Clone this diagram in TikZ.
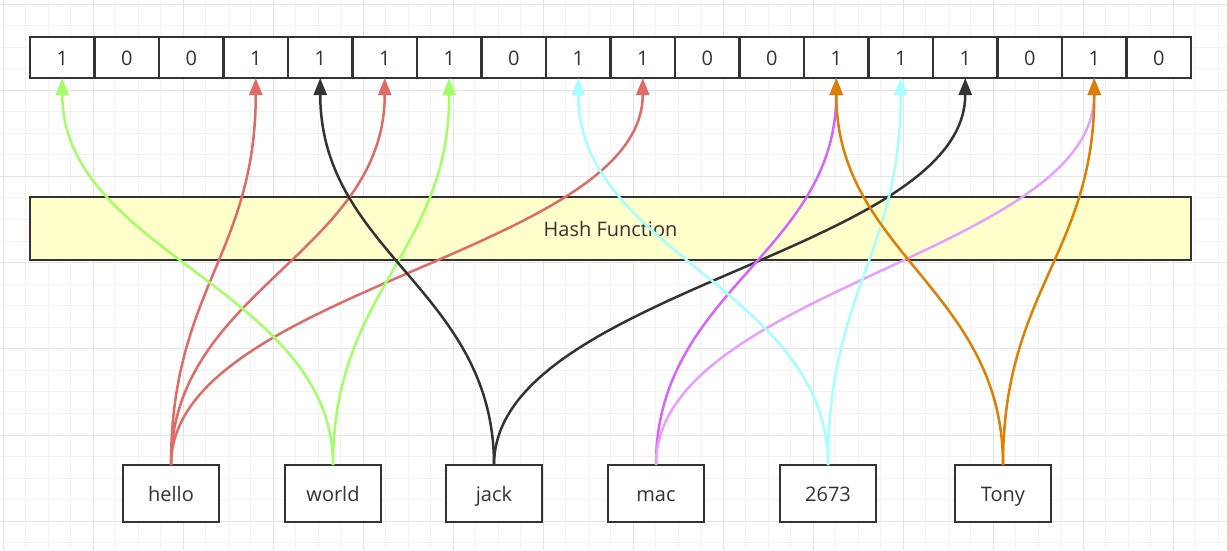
\documentclass[tikz,border=0pt]{standalone}
\usepackage{fontspec}
\setmainfont{Open Sans}
\usepackage{xcolor}
\usetikzlibrary{arrows.meta, positioning}

\definecolor{boxline}{HTML}{333333}
\definecolor{hashfill}{HTML}{FFFFCC}
\definecolor{gridminor}{HTML}{F2F2F2}
\definecolor{gridmajor}{HTML}{E4E4E4}
\definecolor{hred}{HTML}{E06A66}
\definecolor{hgreen}{HTML}{A3FF66}
\definecolor{hblack}{HTML}{333333}
\definecolor{hpurple}{HTML}{D466FF}
\definecolor{hlilac}{HTML}{E6A0FF}
\definecolor{hcyan}{HTML}{A6FFFF}
\definecolor{horange}{HTML}{DF7E00}

\begin{document}
\begin{tikzpicture}[x=1pt, y=-1pt,
  cell/.style={draw=boxline, line width=2.8pt, fill=white, minimum width=64.5pt, minimum height=41pt, inner sep=0pt, outer sep=0pt, text=boxline, text height=17pt, text depth=1pt, font=\fontsize{20}{23}\selectfont},
  word/.style={cell, minimum width=96pt, minimum height=57pt},
  hashbox/.style={cell, fill=hashfill, minimum width=1161pt, minimum height=63pt},
  link/.style={-{Triangle[length=17pt, width=13pt]}, line width=2.5pt}]
\useasboundingbox (0,0) rectangle (1227,550);
\fill[white] (0,0) rectangle (1227,550);
% background grid
\foreach \x in {0,...,54} \draw[gridminor, line width=1pt] ({3+22.5*\x},0) -- ({3+22.5*\x},550);
\foreach \y in {0,...,25} \draw[gridminor, line width=1pt] (0,{4+21.55*\y}) -- (1227,{4+21.55*\y});
\foreach \x in {0,...,13} \draw[gridmajor, line width=1pt] ({3+90*\x},0) -- ({3+90*\x},550);
\foreach \y in {0,...,6} \draw[gridmajor, line width=1pt] (0,{4+86.2*\y}) -- (1227,{4+86.2*\y});

% bit array
\foreach \v [count=\i from 0] in {1,0,0,1,1,1,1,0,1,1,0,0,1,1,1,0,1,0}
  \node[cell] (c\i) at ({62.25+64.5*\i},57.5) {\v};

\node[hashbox] (hash) at (610.5,228.5) {Hash Function};

% inputs
\node[word] (hello) at (171,493.5) {hello};
\node[word, right=66pt of hello] (world) {world};
\node[word, right=65pt of world] (jack) {jack};
\node[word, right=66pt of jack] (mac) {mac};
\node[word, right=76pt of mac] (num) {2673};
\node[word, right=79pt of num] (tony) {Tony};

\draw[link, hred] (hello.north) .. controls +(0,-175) and +(0,175) .. (c3.south);
\draw[link, hred] (hello.north) .. controls +(0,-175) and +(0,175) .. (c5.south);
\draw[link, hred] (hello.north) .. controls +(0,-175) and +(0,175) .. (c9.south);
\draw[link, hgreen] (world.north) .. controls +(0,-175) and +(0,175) .. (c0.south);
\draw[link, hgreen] (world.north) .. controls +(0,-175) and +(0,175) .. (c6.south);
\draw[link, hblack] (jack.north) .. controls +(0,-175) and +(0,175) .. (c4.south);
\draw[link, hblack] (jack.north) .. controls +(0,-175) and +(0,175) .. (c14.south);
\draw[link, hpurple] (mac.north) .. controls +(0,-175) and +(0,175) .. (c12.south);
\draw[link, hlilac] (mac.north) .. controls +(0,-175) and +(0,175) .. (c16.south);
\draw[link, hcyan] (num.north) .. controls +(0,-175) and +(0,175) .. (c8.south);
\draw[link, hcyan] (num.north) .. controls +(0,-175) and +(0,175) .. (c13.south);
\draw[link, horange] (tony.north) .. controls +(0,-175) and +(0,175) .. (c12.south);
\draw[link, horange] (tony.north) .. controls +(0,-175) and +(0,175) .. (c16.south);
\end{tikzpicture}
\end{document}
